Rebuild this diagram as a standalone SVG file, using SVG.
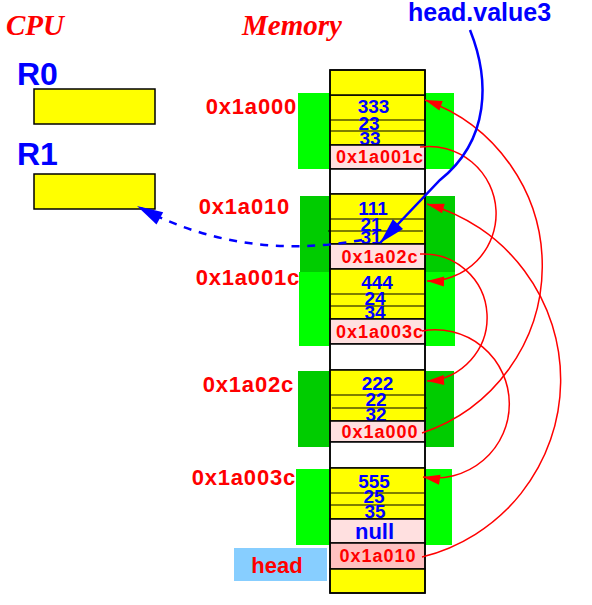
<svg xmlns="http://www.w3.org/2000/svg" width="592" height="605" viewBox="0 0 592 605">
<defs>
<style>
.sans{font-family:'Liberation Sans',Arial,Helvetica,sans-serif;font-weight:bold}
.serif{font-family:'Liberation Serif','Times New Roman',serif;font-weight:bold;font-style:italic;font-size:29px;fill:#ff0000}
.reg{font-size:32px;fill:#0000ff}
.regbox{fill:#ffff00;stroke:#000;stroke-width:1.5}
.yel{fill:#ffff00;stroke:#000;stroke-width:1.5}
.pink{fill:#ffe0e0;stroke:#000;stroke-width:1.5}
.pink2{fill:#ffc0c0;stroke:#000;stroke-width:1.5}
.gap{fill:#ffffff;stroke:#000;stroke-width:1.5}
.sep{stroke:#000;stroke-width:1.2}
.g1{fill:#00ff00}
.g2{fill:#00cc00}
.val{font-size:19px;fill:#0000ff;text-anchor:middle}
.ptr{font-size:18px;fill:#ff0000;text-anchor:middle;letter-spacing:1px}
.addr{font-size:22px;fill:#ff0000;text-anchor:end;letter-spacing:0.8px}
.red{fill:none;stroke:#ff0000;stroke-width:1.5;marker-end:url(#ra)}
</style>
<marker id="ra" markerUnits="userSpaceOnUse" markerWidth="20" markerHeight="12" refX="17" refY="5" orient="auto" overflow="visible"><path d="M0,0 L17,5 L0,10 Z" fill="#ff0000"/></marker>
<marker id="ba" markerUnits="userSpaceOnUse" markerWidth="28" markerHeight="14" refX="26" refY="7" orient="auto" overflow="visible"><path d="M0,0 L26,7 L0,14 Z" fill="#0000ff"/></marker>
</defs>
<rect width="592" height="605" fill="#ffffff"/>

<g id="cpu">
<text class="serif" x="6" y="35">CPU</text>
<text class="sans reg" x="17" y="85">R0</text>
<rect class="regbox" x="34" y="89" width="121" height="35"/>
<text class="sans reg" x="17" y="165">R1</text>
<rect class="regbox" x="34" y="174" width="121" height="35"/>
</g>

<g id="memory-title">
<text class="serif" x="242" y="35">Memory</text>
</g>

<g id="node-0x1a000">
<rect class="g1" x="298" y="93" width="156" height="76"/>
<text class="sans addr" x="297" y="114">0x1a000</text>
<rect class="yel" x="330" y="95" width="95" height="50"/>
<line class="sep" x1="330" y1="120" x2="425" y2="120"/>
<line class="sep" x1="330" y1="131" x2="425" y2="131"/>
<text class="sans val" x="373.5" y="113">333</text>
<text class="sans val" x="369" y="130">23</text>
<text class="sans val" x="370" y="145">33</text>
<rect class="pink" x="330" y="145" width="95" height="24"/>
<text class="sans ptr" x="380" y="163">0x1a001c</text>
<rect class="gap" x="330" y="169" width="95" height="25"/>
</g>

<g id="node-0x1a010">
<rect class="g2" x="300" y="196" width="155" height="76"/>
<text class="sans addr" x="290" y="214">0x1a010</text>
<rect class="yel" x="330" y="194" width="95" height="50"/>
<line class="sep" x1="330" y1="219" x2="425" y2="219"/>
<line class="sep" x1="328" y1="231" x2="423" y2="231"/>
<text class="sans val" x="373" y="215">111</text>
<text class="sans val" x="371" y="231">21</text>
<text class="sans val" x="371" y="244">31</text>
<rect class="pink" x="330" y="244" width="95" height="25"/>
<text class="sans ptr" x="380" y="263">0x1a02c</text>
</g>

<g id="node-0x1a001c">
<rect class="g1" x="299" y="272" width="156" height="74"/>
<text class="sans addr" x="300" y="285">0x1a001c</text>
<rect class="yel" x="330" y="269" width="95" height="50"/>
<line class="sep" x1="330" y1="294" x2="425" y2="294"/>
<line class="sep" x1="330" y1="306" x2="425" y2="306"/>
<text class="sans val" x="377" y="289">444</text>
<text class="sans val" x="375" y="305">24</text>
<text class="sans val" x="375" y="319">34</text>
<rect class="pink" x="330" y="319" width="95" height="25"/>
<text class="sans ptr" x="380" y="338">0x1a003c</text>
<rect class="gap" x="330" y="344" width="95" height="26"/>
</g>

<g id="node-0x1a02c">
<rect class="g2" x="298" y="371" width="156" height="76"/>
<text class="sans addr" x="294" y="392">0x1a02c</text>
<rect class="yel" x="330" y="370" width="95" height="51"/>
<line class="sep" x1="330" y1="395" x2="425" y2="395"/>
<line class="sep" x1="332" y1="408" x2="427" y2="408"/>
<text class="sans val" x="377.5" y="390">222</text>
<text class="sans val" x="376" y="406">22</text>
<text class="sans val" x="376" y="421">32</text>
<rect class="pink" x="330" y="421" width="95" height="21"/>
<text class="sans ptr" x="380" y="438">0x1a000</text>
<rect class="gap" x="330" y="442" width="95" height="26"/>
</g>

<g id="node-0x1a003c">
<rect class="g1" x="296" y="469" width="156" height="76"/>
<text class="sans addr" x="296" y="485">0x1a003c</text>
<rect class="yel" x="330" y="468" width="95" height="51"/>
<line class="sep" x1="330" y1="493" x2="425" y2="493"/>
<line class="sep" x1="330" y1="505" x2="425" y2="505"/>
<text class="sans val" x="374" y="488">555</text>
<text class="sans val" x="374" y="503">25</text>
<text class="sans val" x="375" y="518">35</text>
<rect class="pink" x="330" y="519" width="95" height="24"/>
<text class="sans" x="374.5" y="539" font-size="22" fill="#0000ff" text-anchor="middle">null</text>
</g>

<g id="head">
<rect x="234" y="548" width="93" height="33" fill="#87ceff"/>
<text class="sans" x="277" y="573" font-size="22" fill="#ff0000" text-anchor="middle">head</text>
<rect class="pink2" x="330" y="543" width="95" height="26"/>
<text class="sans ptr" x="378" y="562">0x1a010</text>
</g>

<g id="memory-column">
<rect class="yel" x="330" y="70" width="95" height="25"/>
<rect class="yel" x="330" y="569" width="95" height="24"/>
<rect x="330" y="70" width="95" height="523" fill="none" stroke="#000" stroke-width="1.5"/>
</g>

<g id="label-head-value3">
<text class="sans" x="408" y="21" font-size="25" fill="#0000ff">head.value3</text>
</g>

<g id="connectors">
<path class="red" d="M 422 433 A 176.1 176.1 0 0 0 425 100"/>
<path class="red" d="M 422 557 A 182.5 182.5 0 0 0 427 204"/>
<path class="red" d="M 420 147 A 67.3 67.3 0 1 1 427 281"/>
<path class="red" d="M 420 254 A 63 63 0 0 1 427 381"/>
<path class="red" d="M 422 331 A 74.1 74.1 0 1 1 423 477"/>
<path d="M 470 30 C 490 80 490 140 440 180 L 380 243" fill="none" stroke="#0000ff" stroke-width="2.5" marker-end="url(#ba)"/>
<path d="M 362 240 Q 240 262 137 206" fill="none" stroke="#0000ff" stroke-width="2.5" stroke-dasharray="8 7.7" marker-end="url(#ba)"/>
</g>
</svg>
